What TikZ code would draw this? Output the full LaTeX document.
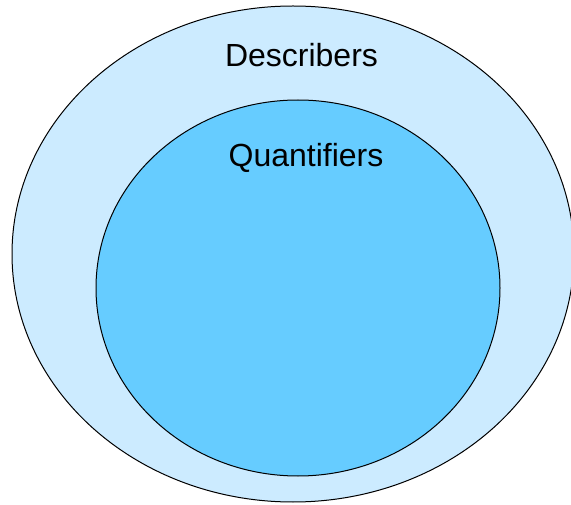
\documentclass[tikz,border=0pt]{standalone}
\usepackage{fontspec}
\setmainfont{Liberation Sans}
\definecolor{outerblue}{HTML}{CCEBFF}
\definecolor{innerblue}{HTML}{66CCFF}
\begin{document}
\begin{tikzpicture}[x=1pt,y=-1pt,
  setshape/.style={draw=black,line width=1pt},
  setlabel/.style={anchor=base,inner sep=0pt,font=\fontsize{32}{38}\selectfont}]
\useasboundingbox (0,0) rectangle (571,505);
\clip (0,0) rectangle (571,505);
\fill[white] (0,0) rectangle (571,505);
\path[setshape,fill=outerblue] (293,254) ellipse [x radius=281, y radius=248];
\path[setshape,fill=innerblue] (298,288) ellipse [x radius=202, y radius=188];
\node[setlabel] (desc) at (301.5,67) {Describers};
\node[setlabel] (quant) at (306,167) {Quantifiers};
\end{tikzpicture}
\end{document}
